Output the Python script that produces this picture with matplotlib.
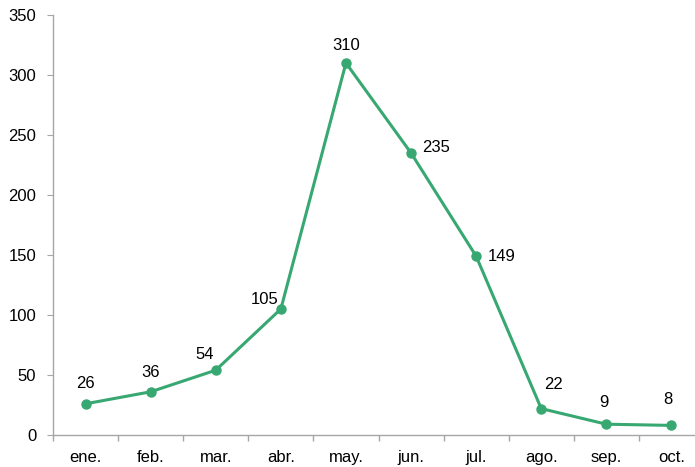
import matplotlib.pyplot as plt

plt.rcParams['font.family'] = ['Liberation Sans', 'DejaVu Sans']

# Data
months = ['ene.', 'feb.', 'mar.', 'abr.', 'may.', 'jun.', 'jul.', 'ago.', 'sep.', 'oct.']
values = [26, 36, 54, 105, 310, 235, 149, 22, 9, 8]
# label offsets in pixels (dx, dy) from each point
label_offsets = [(0, 20), (0, 19), (-11, 16), (-16, 9), (0, 18),
                 (25, 5), (26, 0), (12, 24), (-2, 22), (-4, 26)]

green = '#38a872'
axis_gray = '#a6a6a6'

fig = plt.figure(figsize=(6.95, 4.67), dpi=100)
ax = fig.add_axes([53 / 695, 32 / 467, 651 / 695, 420 / 467])

x = list(range(len(months)))
ax.plot(x, values, color=green, linewidth=2.2, marker='o', markersize=6.5,
        clip_on=False, zorder=3)

for xi, v, (dx, dy) in zip(x, values, label_offsets):
    ax.annotate(str(v), (xi, v), xytext=(dx, dy), textcoords='offset pixels',
                ha='center', va='center', fontsize=12, color='black')

ax.set_xlim(-0.5, len(months) - 0.5)
ax.set_ylim(0, 350)
ax.set_yticks(range(0, 351, 50))

# category labels centred, tick marks between categories
ax.set_xticks(x)
ax.set_xticklabels(months, fontsize=12)
ax.tick_params(axis='x', which='major', length=0, pad=11)
ax.set_xticks([i - 0.5 for i in x] + [len(x) - 0.5], minor=True)
ax.tick_params(axis='x', which='minor', length=4, color=axis_gray, width=1)
ax.tick_params(axis='y', length=4, color=axis_gray, labelsize=12, pad=8)

for side in ['top', 'right']:
    ax.spines[side].set_visible(False)
for side in ['left', 'bottom']:
    ax.spines[side].set_color(axis_gray)
    ax.spines[side].set_linewidth(1)

fig.savefig('out.png', dpi=100)
